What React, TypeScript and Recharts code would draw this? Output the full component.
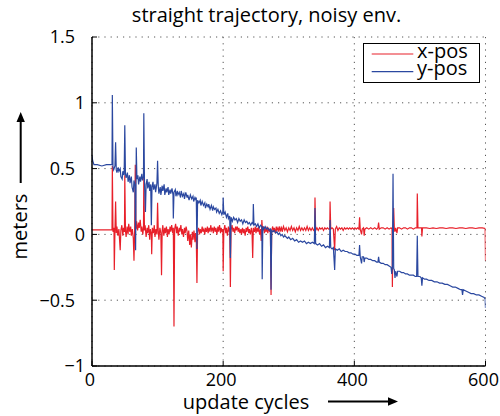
import React from 'react';
import { LineChart, Line, XAxis, YAxis, CartesianGrid, Legend } from 'recharts';

// [update cycle, metres]
const xPos: [number, number][] = [
  [0, 0.035], [10, 0.035], [20, 0.035], [30.5, 0.035], [31, 0.52], [32, 0.02], [33.5, 0.05], [34, -0.27],
  [35, 0.03], [36, 0.25], [37, 0.01], [38, 0.06], [39.5, -0.01], [41, 0.04], [42, -0.04], [43, -0.12],
  [44, 0.03], [45.5, 0.07], [47, -0.01], [48, 0.05], [49.5, 0.02], [50, 0.45], [51, 0.03], [52, -0.02],
  [53.5, 0.06], [55, 0.0], [56, 0.08], [57.5, 0.02], [59, 0.06], [60, -0.01], [61.5, 0.04], [63, -0.03],
  [64, -0.2], [65, 0.02], [66, 0.53], [67, 0.04], [68, 0.1], [69.5, 0.03], [71, 0.09], [72, 0.05],
  [73.5, 0.11], [75, 0.02], [76, 0.06], [77.5, 0.0], [78.5, 0.05], [79, 0.43], [80, 0.03], [81, 0.07],
  [82.5, -0.02], [84, 0.05], [85, 0.01], [86.5, 0.07], [88, -0.04], [89, 0.04], [90.5, 0.0], [91, -0.15],
  [92, 0.05], [93.5, 0.01], [95, 0.07], [96, -0.02], [97.5, 0.04], [99, 0.0], [100, 0.24], [101, 0.03],
  [102, -0.04], [103.5, 0.05], [105, 0.01], [106, -0.31], [107, 0.03], [108, 0.07], [109.5, -0.01], [111, 0.05],
  [112, 0.01], [113.5, 0.06], [115, -0.02], [116, 0.04], [117.5, 0.0], [119, 0.06], [120, 0.02], [121.5, 0.07],
  [123, 0.01], [124, 0.05], [125, -0.7], [126, 0.04], [127.5, 0.08], [129, 0.01], [130, 0.06], [131.5, -0.01],
  [133, 0.05], [134, 0.02], [135.5, 0.07], [137, 0.0], [138, 0.04], [139.5, -0.02], [141, 0.05], [142, 0.01],
  [143.5, 0.06], [145, 0.02], [146, -0.05], [147.5, 0.03], [149, -0.08], [150, 0.0], [151.5, -0.1], [153, 0.02],
  [154, -0.04], [155.5, 0.03], [157, -0.06], [158, 0.01], [159, -0.03], [160, -0.37], [161, 0.02], [162.5, 0.05],
  [164, 0.0], [165, 0.04], [166.5, 0.01], [168, 0.06], [169, 0.02], [170.5, 0.04], [172, 0.0], [173, 0.05],
  [174.5, 0.02], [176, 0.06], [177, 0.01], [178.5, 0.05], [180, 0.02], [181, 0.07], [182.5, 0.03], [184, 0.05],
  [185, 0.01], [186.5, 0.06], [188, 0.02], [189, 0.05], [190.5, 0.0], [192, 0.06], [193, 0.02], [194.5, 0.07],
  [196, 0.01], [197, 0.05], [198.5, 0.02], [199.5, 0.04], [200, -0.28], [201, 0.03], [202.5, 0.07], [204, 0.01],
  [205, 0.05], [206.5, -0.01], [208, 0.06], [209, 0.02], [210, 0.05], [211, -0.4], [212, 0.03], [213.5, 0.07],
  [215, 0.02], [216, 0.05], [217.5, 0.01], [219, 0.06], [220, 0.03], [221.5, 0.06], [223, 0.02], [224, 0.05],
  [225.5, 0.01], [227, 0.04], [228, 0.0], [229.5, 0.05], [231, 0.01], [232, 0.04], [233.5, -0.01], [235, 0.05],
  [236, 0.02], [237.5, 0.06], [239, 0.01], [240, 0.04], [241.5, 0.0], [243, 0.05], [244, 0.02], [245, -0.18],
  [246, 0.05], [247.5, 0.02], [249, 0.06], [250, 0.01], [251.5, 0.05], [253, 0.02], [254, 0.06], [255.5, 0.0],
  [257, 0.04], [258, -0.05], [259, 0.11], [260, 0.03], [261.5, 0.06], [263, 0.01], [264, 0.05], [265.5, 0.02],
  [267, 0.06], [268, 0.01], [269.5, 0.05], [271, 0.02], [272, 0.04], [273, -0.46], [274, 0.03], [275.5, 0.06],
  [277, 0.02], [278, 0.05], [279.5, 0.01], [281, 0.06], [282, 0.03], [283.5, 0.05], [285, 0.02], [286, 0.06],
  [287.5, 0.03], [289, 0.05], [290, 0.02], [292, 0.06], [294, 0.03], [296, 0.05], [298, 0.02], [300, 0.05],
  [302, 0.03], [304, 0.06], [306, 0.03], [308, 0.05], [310, 0.02], [312, 0.05], [314, 0.03], [316, 0.06],
  [318, 0.03], [320, 0.05], [322, 0.03], [324, 0.05], [326, 0.03], [328, 0.06], [330, 0.03], [332, 0.05],
  [334, 0.03], [336, 0.05], [338, 0.03], [339.5, 0.04], [340, 0.28], [341, 0.03], [343, 0.05], [345, 0.03],
  [347, 0.05], [349, 0.04], [351, 0.05], [353, 0.03], [355, 0.05], [357, 0.04], [359, 0.05], [361, 0.04],
  [362.5, 0.04], [363, 0.25], [364, 0.04], [366, 0.05], [368, 0.04], [370, -0.12], [371, 0.04], [373, 0.06],
  [375, 0.03], [377, 0.05], [379, 0.04], [381, 0.05], [383, 0.03], [385, 0.05], [387, 0.04], [389, 0.05],
  [391, 0.04], [393, 0.05], [395, 0.04], [397, 0.05], [399, 0.04], [401, 0.05], [403, 0.04], [405, 0.05],
  [407, 0.04], [408, 0.13], [409, 0.04], [411, 0.0], [412, 0.04], [414, 0.05], [415, -0.01], [416, 0.04],
  [419, 0.05], [422, 0.04], [425, 0.05], [428, 0.04], [431, 0.05], [434, 0.04], [436, 0.05], [437, 0.09],
  [438, 0.04], [441, 0.05], [444, 0.05], [447, 0.04], [450, 0.05], [453, 0.04], [456, 0.05], [457.5, 0.04],
  [458, -0.4], [459, 0.05], [460, 0.2], [461, 0.04], [462, 0.02], [463, 0.05], [465, 0.01], [466, 0.05],
  [469, 0.05], [472, 0.04], [475, 0.05], [478, 0.05], [481, 0.04], [484, 0.05], [487, 0.05], [490, 0.04],
  [493, 0.05], [495.5, 0.05], [496, 0.31], [497, 0.05], [502.5, 0.05], [503, -0.015], [504, 0.05], [510, 0.05],
  [515, 0.045], [520, 0.05], [525, 0.045], [530, 0.05], [535, 0.05], [540, 0.045], [545, 0.05], [550, 0.05],
  [555, 0.045], [560, 0.05], [565, 0.05], [570, 0.045], [575, 0.05], [580, 0.05], [585, 0.045], [590, 0.05],
  [595, 0.05], [599.5, 0.045], [600, -0.2],
];

const yPos: [number, number][] = [
  [0, 0.6], [1, 0.56], [3, 0.53], [8, 0.53], [15, 0.52], [22, 0.53], [29, 0.53], [30.5, 0.53],
  [31, 1.06], [32, 0.51], [33, 0.49], [35, 0.52], [36, 0.7], [37, 0.49], [38, 0.47], [40, 0.51],
  [41, 0.48], [43, 0.5], [44, 0.44], [46, 0.42], [47, 0.48], [49, 0.45], [50, 0.83], [51, 0.46],
  [52, 0.43], [54, 0.47], [55, 0.4], [57, 0.45], [58, 0.39], [60, 0.44], [61, 0.36], [63, 0.32],
  [64, 0.41], [65.5, 0.37], [66.5, -0.12], [67.5, 0.66], [68.5, 0.42], [70, 0.45], [71, 0.38], [73, 0.44],
  [74, 0.4], [76, 0.46], [77, 0.41], [78.5, 0.44], [79, 0.92], [80, 0.4], [81.5, 0.17], [82.5, 0.38],
  [84, 0.42], [85, 0.35], [87, 0.4], [88, 0.33], [89.5, 0.38], [90.5, 0.07], [91.5, 0.36], [93, 0.4],
  [94, 0.34], [96, 0.38], [97, 0.32], [99, 0.39], [100, 0.56], [101, 0.37], [102, 0.31], [104, 0.36],
  [105, 0.3], [107, 0.37], [108, 0.33], [110, 0.38], [111, 0.3], [113, 0.35], [114, 0.32], [116, 0.36],
  [117, 0.3], [119, 0.34], [120, 0.31], [122, 0.35], [123.5, 0.3], [124, 0.12], [125, 0.32], [127, 0.34],
  [128, 0.29], [130, 0.33], [131, 0.3], [133, 0.32], [135, 0.28], [136, 0.33], [138, 0.29], [140, 0.31],
  [141, 0.27], [143, 0.32], [145, 0.28], [146, 0.3], [148, 0.26], [150, 0.3], [152, 0.27], [154, 0.29],
  [155, 0.25], [157, 0.28], [158.5, 0.26], [159, 0.28], [160, -0.11], [161, 0.26], [163, 0.24], [165, 0.26],
  [166, 0.22], [168, 0.25], [170, 0.22], [172, 0.24], [173, 0.2], [175, 0.23], [177, 0.21], [178, 0.23],
  [180, 0.19], [182, 0.22], [184, 0.18], [185, 0.21], [187, 0.19], [189, 0.2], [190, 0.17], [192, 0.19],
  [194, 0.16], [196, 0.18], [198, 0.15], [199.5, 0.17], [200, 0.28], [201, 0.15], [203, 0.17], [205, 0.13],
  [207, 0.16], [208, 0.12], [210, 0.14], [211, -0.18], [212, 0.13], [214, 0.1], [216, 0.13], [218, 0.11],
  [220, 0.12], [222, 0.09], [224, 0.12], [226, 0.1], [228, 0.11], [230, 0.08], [232, 0.11], [234, 0.09],
  [236, 0.1], [238, 0.08], [240, 0.09], [242, 0.07], [244, 0.09], [245.5, 0.08], [246, 0.23], [247, 0.07],
  [249, 0.08], [251, 0.06], [253, 0.08], [255, 0.05], [257, 0.07], [259, 0.06], [259.5, -0.34], [260.5, 0.06],
  [262, 0.04], [264, 0.06], [266, 0.04], [268, 0.05], [270, 0.03], [272, 0.04], [273, -0.42], [274, 0.03],
  [276, 0.02], [278, 0.03], [280, 0.01], [282, 0.02], [284, 0.0], [286, 0.01], [288, -0.01], [290, 0.0],
  [292, -0.02], [294, -0.01], [296, -0.02], [298, -0.03], [300, -0.02], [303, -0.04], [306, -0.03], [309, -0.05],
  [312, -0.04], [315, -0.06], [318, -0.05], [321, -0.06], [324, -0.05], [327, -0.07], [330, -0.06], [333, -0.07],
  [336, -0.06], [339, -0.07], [340, 0.2], [341, -0.07], [344, -0.08], [347, -0.07], [350, -0.09], [353, -0.08],
  [356, -0.1], [359, -0.09], [362, -0.1], [363, 0.11], [364, -0.1], [366, -0.11], [368, -0.1], [370, -0.27],
  [371, -0.11], [374, -0.12], [377, -0.11], [380, -0.13], [383, -0.12], [386, -0.13], [389, -0.13], [392, -0.14],
  [395, -0.14], [398, -0.15], [401, -0.15], [404, -0.16], [407, -0.16], [408, -0.08], [409, -0.17], [411, -0.22],
  [412, -0.17], [414, -0.17], [415, -0.21], [416, -0.18], [419, -0.18], [422, -0.19], [425, -0.19], [428, -0.2],
  [431, -0.2], [434, -0.21], [436, -0.21], [437, -0.17], [438, -0.21], [441, -0.22], [444, -0.22], [447, -0.23],
  [450, -0.23], [453, -0.24], [456, -0.25], [457, -0.3], [458, -0.25], [459, 0.46], [460, -0.26], [461, -0.27],
  [462, -0.33], [463, -0.28], [465, -0.32], [466, -0.28], [469, -0.28], [472, -0.29], [475, -0.29], [478, -0.3],
  [481, -0.3], [484, -0.31], [487, -0.31], [490, -0.31], [493, -0.32], [495, -0.32], [496, -0.01], [497, -0.32],
  [500, -0.32], [502, -0.33], [503, -0.39], [504, -0.33], [507, -0.34], [510, -0.34], [514, -0.35], [518, -0.35],
  [522, -0.36], [526, -0.36], [530, -0.37], [534, -0.37], [538, -0.38], [542, -0.38], [546, -0.39], [550, -0.4],
  [554, -0.4], [558, -0.41], [562, -0.42], [564, -0.42], [565, -0.46], [566, -0.42], [570, -0.43], [574, -0.44],
  [578, -0.45], [582, -0.45], [586, -0.46], [590, -0.46], [594, -0.47], [598, -0.48], [599.5, -0.49], [600, -0.56],
];

const xTicks = [0, 200, 400, 600];
const yTicks = [-1, -0.5, 0, 0.5, 1, 1.5];
const seriesNames = ['x-pos', 'y-pos'];
const titleText = 'straight trajectory, noisy env.';
const xLabelText = 'update cycles';
const yLabelText = 'meters';

const xPosData = xPos.map(([c, v]) => ({ c, v }));
const yPosData = yPos.map(([c, v]) => ({ c, v }));

const FONT = '"Open Sans", "Liberation Sans", sans-serif';
const RED = '#e8202a';
const BLUE = '#2b48a0';
const TICK_LEN = 5;

const fmtY = (v: number) => (v < 0 ? '\u2212' + Math.abs(v) : String(v));

const BottomTick = (p: any) => {
  const { x, y, payload } = p;
  return (
    <g>
      <line x1={x} y1={y} x2={x} y2={y - TICK_LEN} stroke="#000" strokeWidth={1} />
      <text x={x - 2} y={y + 19.5} textAnchor="middle" fontSize={18} fontFamily={FONT} fill="#000">
        {payload.value}
      </text>
    </g>
  );
};

const LeftTick = (p: any) => {
  const { x, y, payload } = p;
  const v = payload.value as number;
  const isInt = Number.isInteger(v);
  return (
    <g>
      <line x1={x} y1={y} x2={x + TICK_LEN} y2={y} stroke="#000" strokeWidth={1} />
      <text x={isInt ? x - 7 : x - 17} y={y + 6.4} textAnchor="end" fontSize={18} fontFamily={FONT} fill="#000">
        {fmtY(v)}
      </text>
    </g>
  );
};

const TopTick = (p: any) => {
  const { x, y } = p;
  return <line x1={x} y1={y} x2={x} y2={y + TICK_LEN} stroke="#000" strokeWidth={1} />;
};

const RightTick = (p: any) => {
  const { x, y } = p;
  return <line x1={x} y1={y} x2={x - TICK_LEN} y2={y} stroke="#000" strokeWidth={1} />;
};

const XAxisLabel = () => (
  <g>
    <text x={246} y={409} textAnchor="middle" fontSize={20} fontFamily={FONT} fill="#000">
      {xLabelText}
    </text>
    <line x1={328} y1={401.5} x2={390} y2={401.5} stroke="#000" strokeWidth={2} />
    <polygon points="398,401.5 388,397.3 388,405.7" fill="#000" />
  </g>
);

const YAxisLabelAndTitle = () => (
  <g>
    <text x={266.5} y={22} textAnchor="middle" fontSize={20} fontFamily={FONT} fill="#000">
      {titleText}
    </text>
    <text
      x={27}
      y={226.5}
      transform="rotate(-90, 27, 226.5)"
      textAnchor="middle"
      fontSize={20}
      fontFamily={FONT}
      fill="#000"
    >
      {yLabelText}
    </text>
    <line x1={20.7} y1={183} x2={20.7} y2={120} stroke="#000" strokeWidth={2} />
    <polygon points="20.7,112 16.5,122 24.9,122" fill="#000" />
  </g>
);

const LegendBox = (props: any) => {
  const items = (props.payload || []) as any[];
  return (
    <svg width={117} height={40} style={{ display: 'block', overflow: 'visible' }}>
      <rect x={0.5} y={0.5} width={116} height={39} fill="#fff" stroke="#000" strokeWidth={1} />
      {items.map((it, i) => (
        <g key={i}>
          <line x1={8.7} x2={50.3} y1={11 + i * 17.7} y2={11 + i * 17.7} stroke={it.color} strokeWidth={1.2} />
          <text x={54} y={14.5 + i * 17.5} fontSize={20} fontFamily={FONT} fill="#000">
            {it.value}
          </text>
        </g>
      ))}
    </svg>
  );
};

export default function App() {
  return (
    <div style={{ position: 'absolute', left: 0, top: 0, width: 500, height: 416, background: '#fff' }}>
      <LineChart width={500} height={416} margin={{ top: 37, right: 14.5, bottom: 20, left: 32 }}>
        <CartesianGrid stroke="#555" strokeDasharray="1.2 5" strokeWidth={1} />
        <XAxis
          xAxisId={0}
          type="number"
          dataKey="c"
          domain={[0, 600]}
          ticks={xTicks}
          allowDataOverflow
          height={30}
          tickSize={0}
          tickMargin={0}
          tickLine={false}
          tick={<BottomTick />}
          axisLine={{ stroke: '#000', strokeWidth: 1.5 }}
          label={<XAxisLabel />}
        />
        <XAxis
          xAxisId="top"
          orientation="top"
          type="number"
          dataKey="c"
          domain={[0, 600]}
          ticks={xTicks}
          allowDataOverflow
          height={0}
          tickSize={0}
          tickMargin={0}
          tickLine={false}
          tick={<TopTick />}
          axisLine={{ stroke: '#000', strokeWidth: 1.5 }}
        />
        <YAxis
          yAxisId={0}
          type="number"
          domain={[-1, 1.5]}
          ticks={yTicks}
          allowDataOverflow
          width={60}
          tickSize={0}
          tickMargin={0}
          tickLine={false}
          tick={<LeftTick />}
          axisLine={{ stroke: '#000', strokeWidth: 1.5 }}
          label={<YAxisLabelAndTitle />}
        />
        <YAxis
          yAxisId="right"
          orientation="right"
          type="number"
          domain={[-1, 1.5]}
          ticks={yTicks}
          allowDataOverflow
          width={0}
          tickSize={0}
          tickMargin={0}
          tickLine={false}
          tick={<RightTick />}
          axisLine={{ stroke: '#000', strokeWidth: 1.5 }}
        />
        <Legend
          layout="horizontal"
          verticalAlign="middle"
          align="center"
          content={<LegendBox />}
          wrapperStyle={{ position: 'absolute', left: 363, top: 43, width: 117, height: 40 }}
        />
        <Line
          data={xPosData}
          dataKey="v"
          name={seriesNames[0]}
          type="linear"
          stroke={RED}
          strokeWidth={1.2}
          dot={false}
          activeDot={false}
          isAnimationActive={false}
        />
        <Line
          data={yPosData}
          dataKey="v"
          name={seriesNames[1]}
          type="linear"
          stroke={BLUE}
          strokeWidth={1.2}
          dot={false}
          activeDot={false}
          isAnimationActive={false}
        />
      </LineChart>
    </div>
  );
}
